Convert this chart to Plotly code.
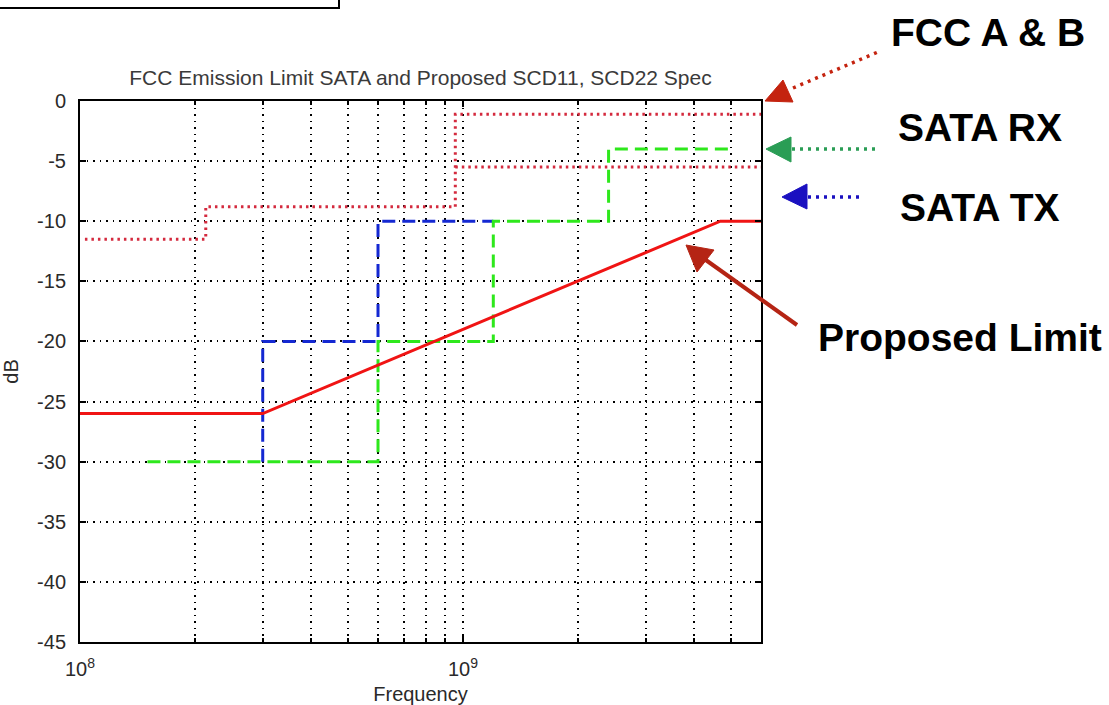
import plotly.graph_objects as go

# ---------------- data ----------------
fcc_b_freq = [1.03e8, 2.13e8, 2.13e8, 9.55e8, 9.55e8, 6.0e9]
fcc_b_db = [-11.5, -11.5, -8.8, -8.8, -1.1, -1.1]

fcc_a_freq = [9.55e8, 6.0e9]
fcc_a_db = [-5.5, -5.5]

sata_tx_freq = [3.0e8, 3.0e8, 6.0e8, 6.0e8, 1.2e9]
sata_tx_db = [-30, -20, -20, -10, -10]

sata_rx_freq = [1.5e8, 6.0e8, 6.0e8, 1.2e9, 1.2e9, 2.4e9, 2.4e9, 5.0e9]
sata_rx_db = [-30, -30, -20, -20, -10, -10, -4, -4]

proposed_freq = [1.0e8, 3.0e8, 4.7e9, 6.0e9]
proposed_db = [-26, -26, -10, -10]

y_ticks = [0, -5, -10, -15, -20, -25, -30, -35, -40, -45]
y_tick_text = ["0", "-5", "-10", "-15", "-20", "-25", "-30", "-35", "-40", "-45"]
x_ticks = [1e8, 1e9]
x_tick_text = ["10<sup>8</sup>", "10<sup>9</sup>"]

title_text = "FCC Emission Limit SATA and Proposed SCD11, SCD22 Spec"
labels = ["FCC A & B", "SATA RX", "SATA TX", "Proposed Limit"]

# ---------------- layout geometry ----------------
W, H = 1109, 705
L, R, T, B = 80, 761, 101, 642


def px(x):
    return (x - L) / (R - L)


def py(y):
    return (B - y) / (B - T)


AX_FONT = "Liberation Sans, Arial, Helvetica, sans-serif"
BIG_FONT = "Liberation Sans, Arial, sans-serif"

fig = go.Figure()

fcc_line = dict(color="#d42a3e", width=3, dash="2.5px,4px")
fig.add_trace(go.Scatter(x=fcc_b_freq, y=fcc_b_db, mode="lines", line=fcc_line, hoverinfo="skip"))
fig.add_trace(go.Scatter(x=fcc_a_freq, y=fcc_a_db, mode="lines", line=fcc_line, hoverinfo="skip"))
fig.add_trace(go.Scatter(x=sata_tx_freq, y=sata_tx_db, mode="lines",
                         line=dict(color="#1428d2", width=3, dash="13px,7px"),
                         hoverinfo="skip"))
fig.add_trace(go.Scatter(x=sata_rx_freq, y=sata_rx_db, mode="lines",
                         line=dict(color="#2ee81c", width=3, dash="13px,7px"),
                         hoverinfo="skip"))
fig.add_trace(go.Scatter(x=proposed_freq, y=proposed_db, mode="lines",
                         line=dict(color="#f01414", width=3),
                         hoverinfo="skip"))

shapes = []
# top-left framed box (partially cut off)
shapes.append(dict(type="rect", xref="paper", yref="paper",
                   x0=px(-4), x1=px(339), y0=py(8), y1=py(-30),
                   line=dict(color="black", width=2), fillcolor="rgba(0,0,0,0)"))


def tri(p1, p2, p3, color):
    path = "M {},{} L {},{} L {},{} Z".format(px(p1[0]), py(p1[1]), px(p2[0]), py(p2[1]),
                                           px(p3[0]), py(p3[1]))
    return dict(type="path", xref="paper", yref="paper", path=path,
                fillcolor=color, line=dict(color=color, width=1))


def dline(a, b, color, dash="3px,5px", width=3.5):
    return dict(type="line", xref="paper", yref="paper",
                x0=px(a[0]), y0=py(a[1]), x1=px(b[0]), y1=py(b[1]),
                line=dict(color=color, width=width, dash=dash))


# FCC arrow
shapes.append(dline((793, 88), (878, 52), "#c4230f"))
shapes.append(tri((765, 101), (783, 80), (793, 102), "#c4230f"))
# SATA RX arrow
shapes.append(dline((792, 149), (878, 149), "#2a9d55"))
shapes.append(tri((766, 149), (791, 137), (791, 162), "#2a9d55"))
# SATA TX arrow
shapes.append(dline((808, 197), (862, 197), "#1a10c0"))
shapes.append(tri((782, 197), (807, 184), (807, 209), "#1a10c0"))
# Proposed limit arrow
shapes.append(dline((797, 325), (703, 258), "#b52414", dash="solid", width=4))
shapes.append(tri((686, 245), (697, 272), (714, 250), "#b52414"))

annotations = []
for text, cx, cy in [(labels[0], 988, 33), (labels[1], 980, 127),
                     (labels[2], 980, 207), (labels[3], 960, 337)]:
    annotations.append(dict(text="<b>" + text + "</b>", xref="paper", yref="paper",
                            x=px(cx), y=py(cy), xanchor="center", yanchor="middle",
                            showarrow=False,
                            font=dict(family=BIG_FONT, size=39, color="black")))

fig.update_layout(
    width=W, height=H,
    margin=dict(l=L, r=W - R, t=T, b=H - B, pad=0),
    paper_bgcolor="white", plot_bgcolor="white",
    showlegend=False,
    title=dict(text=title_text, x=(L + R) / 2 / W, xanchor="center",
               y=1 - 78 / H, yanchor="middle",
               font=dict(family=AX_FONT, size=21, color="#3a3a3a")),
    font=dict(family=AX_FONT, size=20, color="#2a2a2a"),
    shapes=shapes,
    annotations=annotations,
)

GRID_DASH = "1.5px,5px"
fig.update_xaxes(
    type="log", range=[8, 9.7782], automargin=False,
    tickvals=x_ticks, ticktext=x_tick_text,
    ticks="inside", ticklen=6, tickcolor="black", tickwidth=1.5,
    showline=True, linecolor="black", linewidth=2, mirror="ticks",
    showgrid=True, gridcolor="black", griddash=GRID_DASH, gridwidth=1.5,
    zeroline=False, ticklabelstandoff=8,
    minor=dict(dtick="D1", ticks="inside", ticklen=4, tickcolor="black",
               showgrid=True, gridcolor="black", griddash=GRID_DASH, gridwidth=1.5),
    title=dict(text="Frequency", standoff=8, font=dict(size=20, color="#2a2a2a")),
)
fig.update_yaxes(
    range=[-45, 0], automargin=False,
    tickvals=y_ticks, ticktext=y_tick_text,
    ticks="inside", ticklen=6, tickcolor="black", tickwidth=1.5,
    showline=True, linecolor="black", linewidth=2, mirror="ticks",
    showgrid=True, gridcolor="black", griddash=GRID_DASH, gridwidth=1.5,
    zeroline=False, ticklabelstandoff=8,
    title=dict(text="dB", standoff=16, font=dict(size=20, color="#2a2a2a")),
)

fig.write_html("out.html", config={"displayModeBar": False},
               post_script="document.body.style.margin='0';document.body.style.overflow='hidden';")
